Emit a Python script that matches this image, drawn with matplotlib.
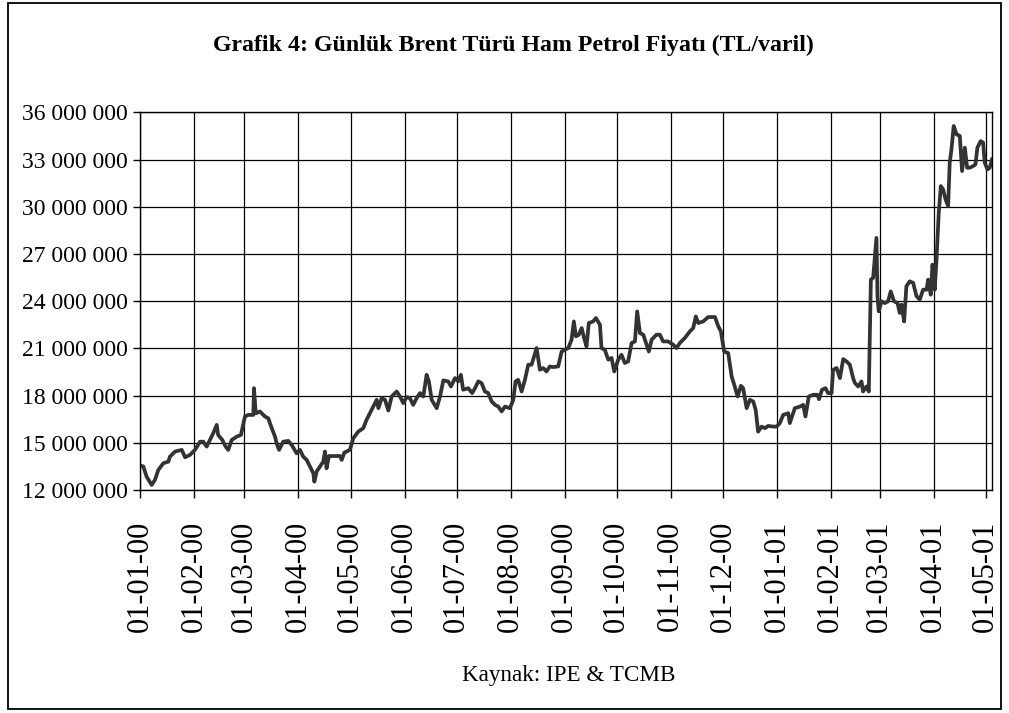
"""Grafik 4 - daily Brent crude price in TL per barrel, Jan 2000 - May 2001 (Excel-style line chart)."""
import numpy as np
import pandas as pd
import matplotlib
matplotlib.use("Agg")
import matplotlib.pyplot as plt             # noqa: E402
from matplotlib.ticker import FuncFormatter  # noqa: E402
from matplotlib.patches import Rectangle     # noqa: E402

TITLE = "Grafik 4: Günlük Brent Türü Ham Petrol Fiyatı (TL/varil)"
SOURCE = "Kaynak: IPE & TCMB"
START = pd.Timestamp("2000-01-01")

# days since 2000-01-01
days = [
    0, 1.9, 3.8, 6.7, 8.6, 10.5, 13.4, 16.3, 17.2, 20.1, 24.0, 25.9, 28.7, 31.6,
    34.5, 36.4, 38.3, 40.2, 42.1, 44.1, 44.9, 47.3, 49.2, 50.7, 52.7, 55.6, 58.0,
    60.3, 62.2, 65.1, 65.5, 66.5, 66.9, 68.9, 71.8, 73.7, 75.7, 77.6, 78.5, 79.9,
    82.3, 85.2, 87.2, 90.0, 91.9, 93.8, 95.8, 97.7, 99.6, 100.2, 101.5, 103.4,
    105.3, 106.3, 107.2, 108.6, 112.0, 114.9, 115.9, 117.4, 120.6, 122.6, 125.4,
    128.3, 130.2, 133.1, 136.0, 137.0, 138.9, 140.8, 142.7, 144.6, 147.5, 149.4,
    151.3, 153.2, 155.1, 157.0, 159.0, 160.9, 162.8, 164.7, 166.0, 167.6, 170.5,
    172.4, 174.3, 177.1, 178.7, 181.0, 182.9, 184.4, 185.7, 188.6, 190.9, 192.5,
    194.4, 196.3, 198.2, 200.1, 202.1, 204.0, 205.9, 207.8, 209.7, 212.6, 214.5,
    215.8, 217.3, 219.3, 221.2, 223.1, 225.0, 225.9, 227.9, 229.8, 231.7, 233.6,
    235.5, 237.5, 240.3, 242.3, 244.2, 246.1, 248.0, 249.3, 250.5, 252.2, 253.8,
    255.2, 256.6, 257.9, 260.4, 262.0, 264.3, 265.2, 267.1, 269.1, 271.0, 272.5,
    274.8, 276.7, 278.6, 280.5, 282.5, 284.4, 285.7, 287.3, 289.2, 291.1, 292.4,
    294.0, 296.8, 298.7, 300.6, 303.5, 306.4, 308.3, 310.2, 313.1, 316.0, 317.9,
    319.4, 320.8, 323.6, 326.5, 330.4, 332.3, 333.8, 335.7, 338.0, 340.0, 341.5,
    343.4, 345.3, 346.6, 348.6, 350.5, 352.4, 353.8, 355.2, 357.2, 359.1, 361.0,
    363.9, 365.8, 367.7, 369.6, 372.5, 373.4, 376.3, 379.2, 381.1, 382.4, 384.3,
    386.8, 389.3, 390.2, 391.9, 393.9, 395.4, 397.4, 398.3, 400.3, 402.2, 404.1,
    406.0, 407.9, 409.8, 410.8, 412.7, 414.6, 415.5, 417.5, 418.8, 420.0, 421.3,
    423.2, 423.8, 424.5, 426.1, 428.0, 429.9, 431.4, 433.3, 435.3, 436.6, 437.6,
    439.1, 440.4, 442.3, 444.3, 446.2, 448.1, 450.0, 452.0, 452.9, 454.4, 455.4,
    456.7, 457.7, 459.0, 460.2, 461.5, 462.9, 464.4, 465.3, 466.3, 467.6, 469.2,
    471.1, 472.4, 474.0, 475.3, 476.8, 478.7, 480.1, 481.2, 483.1, 484.5, 485.4,
    487.0, 488.3, 489.6,
]
# price, million TL per barrel
price_m = [
    13.55, 13.50, 12.85, 12.32, 12.64, 13.27, 13.70, 13.80, 14.12, 14.44, 14.55, 14.08, 14.23, 14.55,
    15.07, 15.07, 14.76, 15.18, 15.61, 16.14, 15.50, 15.18, 14.76, 14.55, 15.18, 15.39, 15.50,
    16.67, 16.77, 16.77, 18.47, 16.88, 16.88, 16.99, 16.67, 16.56, 15.93, 15.39, 14.97, 14.55,
    15.07, 15.12, 14.86, 14.33, 14.55, 14.12, 13.91, 13.48, 13.06, 12.53, 13.17, 13.48,
    13.80, 14.44, 13.38, 14.16, 14.16, 14.16, 13.91, 14.37, 14.55, 15.29, 15.71,
    15.93, 16.46, 17.09, 17.73, 17.20, 17.84, 17.73, 17.05, 17.94, 18.26, 17.94,
    17.52, 17.90, 17.84, 17.41, 17.84, 18.16, 17.94, 19.32, 18.90, 17.73, 17.20,
    17.94, 18.96, 18.90, 18.58, 19.11, 18.90, 19.32, 18.37, 18.47, 18.16, 18.47,
    18.90, 18.79, 18.26, 18.16, 17.62, 17.41, 17.30, 16.99, 17.30, 17.20, 17.73,
    18.90, 19.00, 18.26, 19.00, 19.96, 19.96, 20.28, 21.02, 19.64, 19.75, 19.53,
    19.85, 19.81, 19.85, 20.80, 20.91, 21.02, 21.55, 22.71, 21.76, 21.87, 22.29,
    21.66, 21.12, 22.61, 22.71, 22.93, 22.50, 21.02, 20.91, 20.28, 20.39, 19.53,
    20.28, 20.59, 20.07, 20.17, 21.34, 21.44, 23.35, 21.97, 21.87, 21.23, 20.80,
    21.55, 21.87, 21.87, 21.44, 21.44, 21.23, 21.02, 21.34, 21.66, 22.08, 22.29,
    23.03, 22.61, 22.71, 22.99, 22.99, 22.40, 22.08, 20.80, 20.70, 19.21, 18.68,
    17.94, 18.62, 18.47, 17.20, 17.73, 17.62, 17.09, 15.71, 16.03, 15.93, 16.07,
    16.03, 16.03, 16.25, 16.77, 16.88, 16.25, 17.20, 17.30, 17.41, 16.67, 17.94,
    18.05, 18.05, 17.77, 18.37, 18.47, 18.16, 18.16, 19.64, 19.75, 19.11, 20.32,
    20.17, 19.96, 19.11, 18.80, 18.58, 18.90, 18.26, 18.58, 18.26, 25.37, 25.48,
    28.02, 24.32, 23.35, 23.99, 23.88, 23.99, 24.62, 23.99, 23.88, 23.25, 23.78,
    22.71, 24.94, 25.26, 25.16, 24.32, 24.10, 24.73, 24.73, 25.37, 24.41, 26.32,
    24.73, 26.64, 29.61, 31.31, 31.10, 30.46, 30.04, 32.80, 33.64, 35.13, 34.60,
    34.50, 32.27, 33.75, 32.48, 32.48, 32.58, 32.69, 33.75, 34.17, 34.07, 32.80,
    32.37, 32.48, 33.01,
]
month_ticks = pd.date_range("2000-01-01", "2001-05-01", freq="MS")
y_ticks = np.arange(12, 37, 3) * 1e6

W, H = 1009, 713


def fit_width(fig, txt, px):
    """scale a text's font so it spans px pixels, like Excel's squeezed Times"""
    fig.canvas.draw()
    w = txt.get_window_extent().width
    txt.set_fontsize(txt.get_fontsize() * px / w)


def main():
    plt.rcParams["font.family"] = ["Liberation Serif", "DejaVu Serif"]
    dates = START + pd.to_timedelta(days, unit="D")
    price = np.array(price_m) * 1e6

    fig = plt.figure(figsize=(W / 100, H / 100), dpi=100)
    ax = fig.add_axes([140 / W, 1 - 490 / H, (992 - 140) / W, (490 - 112.3) / H])
    ax.plot(dates, price, color="#333333", lw=2.7, solid_joinstyle="round")

    ax.set_ylim(12e6, 36e6)
    ax.set_yticks(y_ticks)
    ax.yaxis.set_major_formatter(FuncFormatter(lambda v, _: f"{v:,.0f}".replace(",", " ")))
    ax.set_xlim(START, START + pd.Timedelta(days=489.6))
    ax.set_xticks(month_ticks)
    ax.set_xticklabels([d.strftime("%d-%m-%y") for d in month_ticks], rotation=90)
    ax.tick_params(axis="y", direction="out", length=5, width=1, pad=4, labelsize=17)
    ax.tick_params(axis="x", direction="out", length=6, width=1, pad=16, labelsize=22)
    ax.grid(True, color="black", lw=0.9)
    ax.set_axisbelow(True)
    for s in ax.spines.values():
        s.set_color("black"); s.set_linewidth(1.0)

    t = fig.text(513 / W, 1 - 45 / H, TITLE, ha="center", va="center",
                 fontsize=18, fontweight="bold")
    src = fig.text(569 / W, 1 - 676 / H, SOURCE, ha="center", va="center", fontsize=16)
    fit_width(fig, t, 600)
    fit_width(fig, src, 214)

    fig.patches.append(Rectangle((8 / W, 1 - 709 / H), (1001 - 8) / W, (709 - 3) / H,
                                 transform=fig.transFigure, fill=False, ec="black", lw=1.3))
    fig.savefig("out.png", dpi=100)
    plt.close(fig)


if __name__ == "__main__":
    main()
